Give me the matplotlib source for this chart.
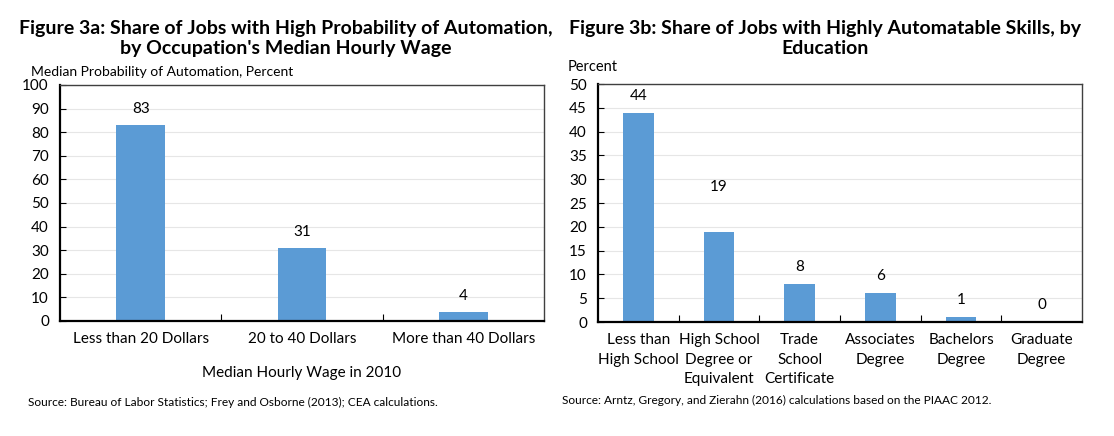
"""
Figure 3a / 3b: share of jobs at risk of automation by wage and education
"""

# %% Imports

import matplotlib
matplotlib.use('Agg')
import matplotlib.pyplot as plt
from matplotlib.ticker import FixedLocator


# %% Data

wage_groups = ['Less than 20 Dollars', '20 to 40 Dollars', 'More than 40 Dollars']
wage_share = [83, 31, 4]

edu_groups = ['Less than\nHigh School', 'High School\nDegree or\nEquivalent',
              'Trade\nSchool\nCertificate', 'Associates\nDegree',
              'Bachelors\nDegree', 'Graduate\nDegree']
edu_share = [44, 19, 8, 6, 1, 0]


# %% Style

plt.rcParams['font.family'] = ['Lato', 'DejaVu Sans']
W, H = 1114, 436
bar_col = '#5B9BD5'


def px(x0, y0, x1, y1):
    """Axes rect from pixel box (top-left origin)"""
    return [x0 / W, 1 - y1 / H, (x1 - x0) / W, (y1 - y0) / H]


def style_axes(ax, ymax, step, n):
    ax.set_xlim(-0.5, n - 0.5)
    ax.set_ylim(0, ymax)
    ax.set_yticks(range(0, ymax + 1, step))
    ax.grid(axis='y', color='#e6e6e6', lw=0.8)
    ax.set_axisbelow(True)
    for s in ['left', 'bottom']:
        ax.spines[s].set_linewidth(1.6)
        ax.spines[s].set_color('black')
    for s in ['top', 'right']:
        ax.spines[s].set_linewidth(1.0)
        ax.spines[s].set_color('#404040')
    ax.tick_params(axis='y', direction='in', length=4, width=0.8,
                   labelsize=11, pad=8)
    # category labels without ticks, tick marks at category boundaries
    ax.tick_params(axis='x', which='major', length=0, labelsize=11, pad=8)
    ax.xaxis.set_minor_locator(FixedLocator([i + 0.5 for i in range(n - 1)]))
    ax.tick_params(axis='x', which='minor', direction='in', length=5,
                   width=0.8)


fig = plt.figure(figsize=(W / 100, H / 100), dpi=100)


# %% Figure 3a

ax1 = fig.add_axes(px(60, 85, 544, 321))
x1 = range(len(wage_groups))
ax1.bar(x1, wage_share, width=0.3, color=bar_col, zorder=2)
style_axes(ax1, 100, 10, len(wage_groups))
ax1.set_xticks(list(x1))
ax1.set_xticklabels(wage_groups)
for i, v in enumerate(wage_share):
    ax1.annotate(str(v), (i, v), xytext=(0, 9), textcoords='offset pixels',
                 ha='center', va='bottom', fontsize=11)
ax1.set_xlabel('Median Hourly Wage in 2010', fontsize=11, labelpad=14)

fig.text(286 / W, 1 - 38.5 / H,
         "Figure 3a: Share of Jobs with High Probability of Automation,\n"
         "by Occupation's Median Hourly Wage",
         ha='center', va='center', fontsize=14, fontweight='bold',
         linespacing=1.25)
fig.text(31 / W, 1 - 72 / H, 'Median Probability of Automation, Percent',
         ha='left', va='center', fontsize=10)
fig.text(28 / W, 1 - 402 / H,
         'Source: Bureau of Labor Statistics; Frey and Osborne (2013); '
         'CEA calculations.', ha='left', va='center', fontsize=8.6)


# %% Figure 3b

ax2 = fig.add_axes(px(598, 84, 1082, 322))
x2 = range(len(edu_groups))
ax2.bar(x2, edu_share, width=0.38, color=bar_col, zorder=2)
style_axes(ax2, 50, 5, len(edu_groups))
ax2.set_xticks(list(x2))
ax2.set_xticklabels(edu_groups, linespacing=1.5, va='top')
lift = {1: 28}
for i, v in enumerate(edu_share):
    ax2.annotate(str(v), (i, v), xytext=(0, 10 + lift.get(i, 0)),
                 textcoords='offset pixels', ha='center', va='bottom',
                 fontsize=11)

fig.text(825 / W, 1 - 38.5 / H,
         'Figure 3b: Share of Jobs with Highly Automatable Skills, by\n'
         'Education', ha='center', va='center', fontsize=14,
         fontweight='bold', linespacing=1.25)
fig.text(568 / W, 1 - 67 / H, 'Percent', ha='left', va='center',
         fontsize=10.5)
fig.text(562 / W, 1 - 400 / H,
         'Source: Arntz, Gregory, and Zierahn (2016) calculations based on '
         'the PIAAC 2012.', ha='left', va='center', fontsize=8.6)

fig.savefig('out.png', dpi=100, facecolor='white')
